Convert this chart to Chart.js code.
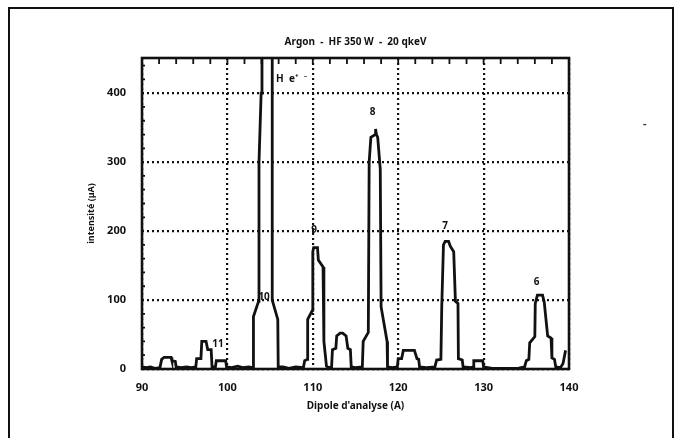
<!DOCTYPE html>
<html>
<head>
<meta charset="utf-8">
<script src="https://cdn.jsdelivr.net/npm/chart.js@4.4.1/dist/chart.umd.min.js"></script>
<style>
html,body{margin:0;padding:0;background:#fff;}
#wrap{position:relative;width:680px;height:438px;overflow:hidden;}
#wrap canvas{position:absolute;left:0;top:0;}
#page-frame{position:absolute;left:8px;top:7px;width:666px;height:470px;border:2px solid #111;box-sizing:border-box;pointer-events:none;}
#mark{position:absolute;left:643px;top:115px;font:bold 11px "Noto Sans";color:#333;}
</style>
</head>
<body>
<div id="wrap">
  <canvas id="chart" width="680" height="438"></canvas>
  <div id="page-frame"></div>
  <span id="mark">-</span>
</div>
<script>
/* spectrum trace: dipole current (A) vs intensity (µA) */
const traceX = [
  90.0, 90.5, 91.0, 91.5, 92.1, 92.3, 92.6, 93.4, 93.5, 93.9, 94.0, 94.6, 95.2, 95.8,
  96.3, 96.4, 96.9, 97.0, 97.5, 97.7, 98.1, 98.2, 98.6, 98.7, 99.8, 99.9,
  100.5, 101.2, 101.8, 102.5, 102.95,
  103.0, 103.05, 103.65, 103.7, 103.95, 104.05, 105.25, 105.25, 105.9, 105.95,
  106.5, 107.2, 108.0, 108.9,
  109.05, 109.35, 109.4, 109.95, 110.0, 110.1, 110.55, 110.65, 111.2, 111.3, 111.6, 111.9,
  112.2, 112.3, 112.7, 112.8, 113.2, 113.5, 113.9, 114.1, 114.4, 114.5, 115.0, 115.8,
  115.9, 116.5, 116.6, 116.8, 117.3, 117.35, 117.45, 117.6, 117.9, 118.0, 118.7, 118.75,
  119.3, 119.9, 120.0, 120.4, 120.6, 121.9, 122.2, 122.4, 122.5, 123.3, 124.3,
  124.5, 125.0, 125.1, 125.3, 125.5, 125.9, 126.1, 126.5, 126.7, 127.0, 127.05, 127.5, 127.6,
  128.5, 128.8, 128.85, 129.9, 130.0, 131.0, 132.5, 134.0, 134.8,
  135.0, 135.3, 135.4, 136.0, 136.05, 136.3, 136.9, 137.1, 137.5, 137.9, 138.0, 138.3, 138.45,
  139.0, 139.3, 139.6
];
const traceY = [
  3, 2, 3, 1, 2, 14, 17, 17, 12, 11, 3, 2, 3, 2,
  3, 15, 15, 40, 40, 28, 28, 3, 3, 12, 12, 3,
  2, 4, 2, 3, 2,
  2, 76, 98, 300, 400, 480, 480, 100, 72, 3,
  3, 1, 3, 2,
  12, 14, 72, 85, 170, 176, 176, 158, 148, 40, 4, 2,
  3, 28, 30, 48, 52, 52, 48, 30, 28, 3, 2, 3,
  40, 53, 300, 336, 340, 348, 340, 336, 290, 90, 40, 3,
  2, 3, 15, 15, 27, 27, 15, 14, 3, 2, 3,
  13, 14, 90, 180, 185, 185, 178, 170, 98, 95, 15, 13, 3,
  2, 3, 12, 12, 3, 1, 1, 1, 3,
  12, 14, 38, 47, 95, 107, 107, 97, 48, 45, 16, 14, 3,
  2, 8, 27
];

const xTickValues = [90, 100, 110, 120, 130, 140];
const yTickValues = [0, 100, 200, 300, 400];
const topMinorTicks = [92, 94, 96, 98, 102, 104, 106, 108, 112, 114, 116, 118, 122, 124, 126, 128, 132, 134, 136, 138];
const leftMinorTicks = [20, 40, 60, 80, 120, 140, 160, 180, 220, 240, 260, 280, 320, 340, 360, 380, 420, 440];

const peakLabels = ['11', '10', '9', '8', '7', '6', 'H  e\u207A  \u207B'];
const peakLabelX = [98.9, 104.3, 110.15, 117.0, 125.5, 136.2, 105.7];
const peakLabelY = [36, 104, 201, 373, 207, 126, 420];

const FONT = '"Noto Sans", "DejaVu Sans", sans-serif';

// frame, inner tick marks and peak names, all placed through the scales
const decor = {
  id: 'decor',
  afterDatasetsDraw(chart){
    const {ctx, chartArea: a, scales: {x, y}} = chart;
    ctx.save();
    ctx.strokeStyle = '#111';
    ctx.lineWidth = 1.8;
    ctx.beginPath();
    topMinorTicks.concat(xTickValues).forEach(v => {
      const px = x.getPixelForValue(v);
      ctx.moveTo(px, a.top); ctx.lineTo(px, a.top + 6);
    });
    leftMinorTicks.forEach(v => {
      const py = y.getPixelForValue(v);
      ctx.moveTo(a.left, py); ctx.lineTo(a.left + 3, py);
    });
    ctx.stroke();

    ctx.lineWidth = 2.6;
    ctx.strokeRect(a.left, a.top, a.right - a.left, a.bottom - a.top);

    ctx.fillStyle = '#111';
    ctx.font = 'bold 10px ' + FONT;
    ctx.textBaseline = 'middle';
    peakLabels.forEach((t, i) => {
      ctx.textAlign = i === peakLabels.length - 1 ? 'left' : 'center';
      ctx.fillText(t, x.getPixelForValue(peakLabelX[i]), y.getPixelForValue(peakLabelY[i]));
    });
    ctx.restore();
  }
};

new Chart(document.getElementById('chart'), {
  type: 'line',
  data: {
    datasets: [{
      data: traceX.map((v, i) => ({x: v, y: traceY[i]})),
      borderColor: '#111',
      borderWidth: 2.8,
      pointRadius: 0,
      tension: 0,
      fill: false
    }]
  },
  options: {
    responsive: false,
    animation: false,
    layout: {padding: {top: 30, right: 111, bottom: 0, left: 0}},
    plugins: {
      legend: {display: false},
      tooltip: {enabled: false},
      title: {
        display: true,
        fullSize: false,
        text: 'Argon  -  HF 350 W  -  20 qkeV',
        color: '#111',
        font: {family: FONT, size: 10, weight: 'bold', lineHeight: 1.2},
        padding: {top: 6, bottom: 10}
      }
    },
    scales: {
      x: {
        type: 'linear',
        min: 90, max: 140,
        afterBuildTicks: s => { s.ticks = xTickValues.map(v => ({value: v})); },
        afterFit: s => { s.height = 69; },
        grid: {color: '#111', lineWidth: 2.2, drawTicks: false},
        border: {display: false, dash: [2, 3]},
        ticks: {color: '#111', padding: 12, font: {family: FONT, size: 11, weight: 'bold'}},
        title: {
          display: true,
          text: "Dipole d'analyse (A)",
          color: '#111',
          font: {family: FONT, size: 10, weight: 'bold', lineHeight: 1.2},
          padding: {top: 0, bottom: 26}
        }
      },
      y: {
        min: 0, max: 451,
        afterBuildTicks: s => { s.ticks = yTickValues.map(v => ({value: v})); },
        afterFit: s => { s.width = 142; },
        grid: {color: '#111', lineWidth: 2.2, drawTicks: false},
        border: {display: false, dash: [2, 3]},
        ticks: {color: '#111', padding: 16, font: {family: FONT, size: 11, weight: 'bold'}},
        title: {
          display: true,
          text: 'intensité (µA)',
          color: '#111',
          font: {family: FONT, size: 9, weight: 'bold', lineHeight: 1.2},
          padding: {top: 86, bottom: 0}
        }
      }
    }
  },
  plugins: [decor]
});
</script>
</body>
</html>
